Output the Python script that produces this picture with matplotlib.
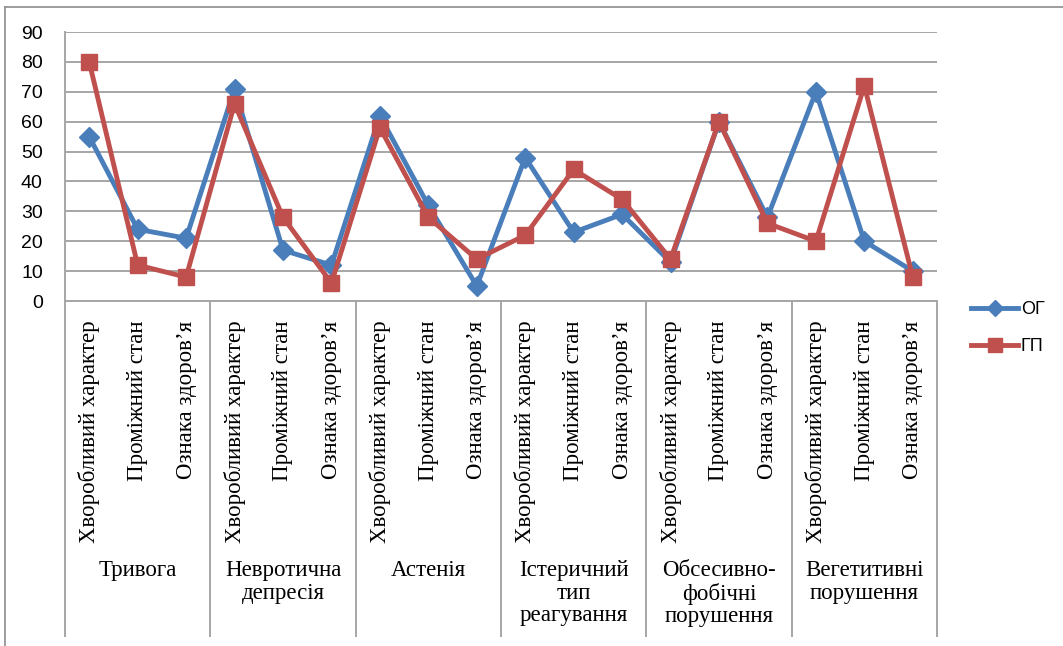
import matplotlib.pyplot as plt
import numpy as np
from matplotlib.lines import Line2D

# data
GROUPS = ["Тривога", "Невротична\nдепресія", "Астенія",
          "Істеричний\nтип\nреагування", "Обсесивно-\nфобічні\nпорушення",
          "Вегетитивні\nпорушення"]
SUBCATS = ["Хворобливий характер", "Проміжний стан", "Ознака здоров’я"]
OG = [55, 24, 21, 71, 17, 12, 62, 32, 5, 48, 23, 29, 13, 60, 28, 70, 20, 10]
GP = [80, 12, 8, 66, 28, 6, 58, 28, 14, 22, 44, 34, 14, 60, 26, 20, 72, 8]

BLUE = "#4a7ebb"
RED = "#c0504d"
GRID = "#a6a6a6"

W, H = 1063, 646
fig = plt.figure(figsize=(W / 100, H / 100), dpi=100)
ax = fig.add_axes([65 / W, 1 - 301 / H, (937 - 65) / W, (301 - 32) / H])

x = np.arange(len(OG))
ax.plot(x, OG, color=BLUE, lw=3.5, marker="D", ms=10, label="ОГ", zorder=3)
ax.plot(x, GP, color=RED, lw=3.5, marker="s", ms=12, label="ГП", zorder=4)

ax.set_xlim(-0.5, len(OG) - 0.5)
ax.set_ylim(0, 90)
ax.set_yticks(range(0, 91, 10))
ax.grid(True, axis="y", color=GRID, lw=1.4)
ax.set_axisbelow(True)
for s in ["top", "right"]:
    ax.spines[s].set_visible(False)
for s in ["left", "bottom"]:
    ax.spines[s].set_color(GRID)
    ax.spines[s].set_linewidth(1.4)

ax.tick_params(axis="y", length=0, pad=16, labelsize=14)
for lab in ax.get_yticklabels():
    lab.set_family("Liberation Sans")

# sub category labels
ax.set_xticks(x)
ax.set_xticklabels(SUBCATS * len(GROUPS), rotation=90, family="Liberation Serif",
                   fontsize=16.5)
ax.tick_params(axis="x", which="major", length=0, pad=14)

# group separators
ax.set_xticks(np.arange(-0.5, len(OG), 3), minor=True)
ax.tick_params(axis="x", which="minor", length=(637 - 301) * 0.72, width=1.4,
               color=GRID, direction="out")

for i, g in enumerate(GROUPS):
    ax.annotate(g, xy=(3 * i + 1, 0), xycoords=("data", "axes fraction"),
                xytext=(0, -(560 - 301) * 0.72), textcoords="offset points",
                ha="center", va="top", family="Liberation Serif", fontsize=16.5,
                linespacing=1.1)

# outer frame
fig.add_artist(Line2D([5 / W, 5 / W], [0, 1 - 7 / H], color="#8c8c8c", lw=1.2))
fig.add_artist(Line2D([5 / W, 1], [1 - 7 / H, 1 - 7 / H], color="#8c8c8c", lw=1.2))

fig.legend(loc="center left", bbox_to_anchor=(955 / W, 1 - 328 / H), frameon=False,
           prop={"family": "Liberation Sans", "size": 13}, handlelength=2.6,
           labelspacing=1.1, handletextpad=0.15, markerscale=0.8)

plt.savefig("out.png", dpi=100)
